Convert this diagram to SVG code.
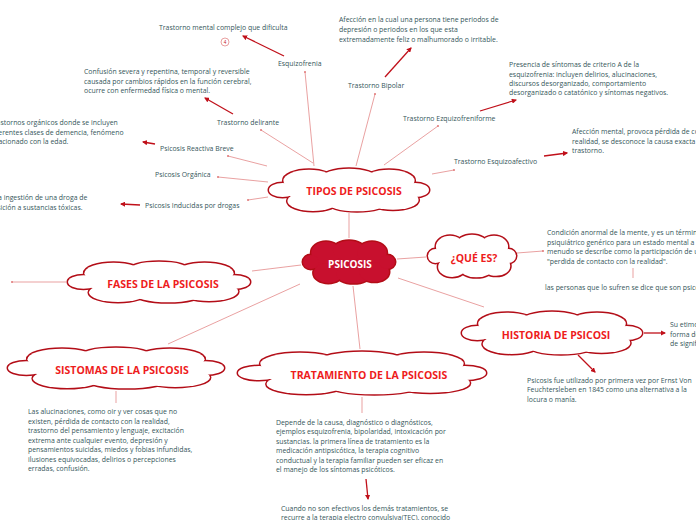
<svg xmlns="http://www.w3.org/2000/svg" xmlns:xlink="http://www.w3.org/1999/xlink" width="696" height="520" viewBox="0 0 696 520">
<style>
text{font-family:"Open Sans","Liberation Sans",sans-serif;}
.t{font-size:6.9px;fill:#35565a;}
.h{font-size:10.5px;font-weight:bold;fill:#ee1c1c;text-anchor:middle;}
.thin{stroke:#e07878;stroke-width:0.7;fill:none;}
.arr{stroke:#c0101a;stroke-width:1.3;fill:none;marker-end:url(#ah);}
.dot{fill:#e07878;}
.cs ellipse{stroke:#b30d17;stroke-width:3;vector-effect:non-scaling-stroke;}
.cf ellipse{stroke:none;}
</style>
<defs>
<marker id="ah" viewBox="0 0 10 10" refX="8" refY="5" markerWidth="4" markerHeight="4" orient="auto"><path d="M0,0L10,5L0,10z" fill="#c0101a"/></marker>
<g id="cloud">
<g class="cs">
<ellipse cx="0" cy="0" rx=".85" ry=".55"/><ellipse cx="-.5" cy="-.42" rx=".32" ry=".5"/><ellipse cx="0" cy="-.52" rx=".35" ry=".45"/><ellipse cx=".5" cy="-.42" rx=".32" ry=".5"/><ellipse cx="-.45" cy=".5" rx=".32" ry=".45"/><ellipse cx=".1" cy=".55" rx=".38" ry=".42"/><ellipse cx=".55" cy=".45" rx=".32" ry=".45"/><ellipse cx="-.83" cy="0" rx=".17" ry=".32"/><ellipse cx=".83" cy="0" rx=".17" ry=".32"/>
</g>
<g class="cf">
<ellipse cx="0" cy="0" rx=".85" ry=".55"/><ellipse cx="-.5" cy="-.42" rx=".32" ry=".5"/><ellipse cx="0" cy="-.52" rx=".35" ry=".45"/><ellipse cx=".5" cy="-.42" rx=".32" ry=".5"/><ellipse cx="-.45" cy=".5" rx=".32" ry=".45"/><ellipse cx=".1" cy=".55" rx=".38" ry=".42"/><ellipse cx=".55" cy=".45" rx=".32" ry=".45"/><ellipse cx="-.83" cy="0" rx=".17" ry=".32"/><ellipse cx=".83" cy="0" rx=".17" ry=".32"/>
</g>
</g>
</defs>
<rect width="696" height="520" fill="#fff"/>
<g id="connectors">
<line class="thin" x1="314" y1="166" x2="305" y2="72"/>
<line class="thin" x1="356" y1="166" x2="375" y2="94"/>
<line class="thin" x1="384" y1="165" x2="438" y2="126"/>
<line class="thin" x1="432" y1="174" x2="454" y2="170"/>
<line class="thin" x1="313" y1="163" x2="261" y2="130"/>
<line class="thin" x1="267" y1="166" x2="228" y2="156"/>
<line class="thin" x1="268" y1="182" x2="218" y2="177"/>
<line class="thin" x1="268" y1="197" x2="248" y2="200"/>
<line class="thin" x1="349" y1="213" x2="349" y2="238"/>
<line class="thin" x1="397" y1="259" x2="426" y2="257"/>
<line class="thin" x1="517" y1="253" x2="543" y2="251"/>
<line class="thin" x1="633" y1="268" x2="633" y2="278"/>
<line class="thin" x1="301" y1="265" x2="252" y2="271"/>
<line class="thin" x1="66" y1="282" x2="12" y2="282"/>
<line class="thin" x1="398" y1="278" x2="484" y2="307"/>
<line class="thin" x1="300" y1="284" x2="168" y2="344"/>
<line class="thin" x1="353" y1="286" x2="360" y2="349"/>
<line class="thin" x1="362" y1="397" x2="362" y2="413"/>
<line class="thin" x1="116" y1="391" x2="116" y2="403"/>
<g class="dot"><circle cx="305" cy="72" r="1"/><circle cx="375" cy="94" r="1"/><circle cx="438" cy="126" r="1"/><circle cx="454" cy="170" r="1"/><circle cx="261" cy="130" r="1"/><circle cx="228" cy="156" r="1"/><circle cx="218" cy="177" r="1"/><circle cx="248" cy="200" r="1"/><circle cx="543" cy="251" r="1"/><circle cx="12" cy="282" r="1"/></g>
<line class="arr" x1="284" y1="56" x2="243" y2="36"/>
<line class="arr" x1="385" y1="77" x2="411" y2="48"/>
<line class="arr" x1="480" y1="111" x2="516" y2="100"/>
<line class="arr" x1="544" y1="156" x2="567" y2="153"/>
<line class="arr" x1="233" y1="114" x2="205" y2="98"/>
<line class="arr" x1="155" y1="144" x2="143" y2="142"/>
<line class="arr" x1="140" y1="205" x2="121" y2="204"/>
<line class="arr" x1="644" y1="333" x2="665" y2="333"/>
<line class="arr" x1="578" y1="355" x2="595" y2="372"/>
<line class="arr" x1="366" y1="479" x2="368" y2="499"/>
<circle cx="225" cy="42" r="4" fill="none" stroke="#e07878" stroke-width="0.7"/>
<text x="225" y="44" font-size="4.5" fill="#c0101a" text-anchor="middle">4</text>
</g>
<g id="tipos"><use href="#cloud" fill="#fff" transform="translate(349,190) scale(80,22)"/><text class="h" x="354" y="195">TIPOS DE PSICOSIS</text></g>
<g id="psicosis"><use href="#cloud" fill="#c8102e" transform="translate(349,262) scale(46,22)"/><text class="h" x="350" y="268" style="fill:#fff;font-size:10px">PSICOSIS</text></g>
<g id="quees"><use href="#cloud" fill="#fff" transform="translate(472,256) scale(44,22)"/><text class="h" x="474" y="262">¿QUÉ ES?</text></g>
<g id="fases"><use href="#cloud" fill="#fff" transform="translate(159,282) scale(91,21)"/><text class="h" x="163" y="288">FASES DE LA PSICOSIS</text></g>
<g id="historia"><use href="#cloud" fill="#fff" transform="translate(552,333) scale(90,22)"/><text class="h" x="556" y="339">HISTORIA DE PSICOSI</text></g>
<g id="sistomas"><use href="#cloud" fill="#fff" transform="translate(116,368) scale(108,21)"/><text class="h" x="122" y="374">SISTOMAS DE LA PSICOSIS</text></g>
<g id="tratamiento"><use href="#cloud" fill="#fff" transform="translate(362,373) scale(124,22)"/><text class="h" x="369" y="379">TRATAMIENTO DE LA PSICOSIS</text></g>
<g id="texts">
<text class="t" x="159" y="30">Trastorno mental complejo que dificulta</text>
<text class="t" x="278" y="66">Esquizofrenia</text>
<text class="t" x="339" y="22">Afección en la cual una persona tiene periodos de</text>
<text class="t" x="339" y="32">depresión o periodos en los que esta</text>
<text class="t" x="339" y="42">extremadamente feliz o malhumorado o irritable.</text>
<text class="t" x="348" y="88">Trastorno Bipolar</text>
<text class="t" x="509" y="67">Presencia de síntomas de criterio A de la</text>
<text class="t" x="509" y="77">esquizofrenia: incluyen delirios, alucinaciones,</text>
<text class="t" x="509" y="86">discursos desorganizado, comportamiento</text>
<text class="t" x="509" y="95">desorganizado o catatónico y síntomas negativos.</text>
<text class="t" x="403" y="121">Trastorno Ezquizofreniforme</text>
<text class="t" x="572" y="134">Afección mental, provoca pérdida de contacto con la</text>
<text class="t" x="572" y="144">realidad, se desconoce la causa exacta de este</text>
<text class="t" x="572" y="153">trastorno.</text>
<text class="t" x="454" y="164">Trastorno Esquizoafectivo</text>
<text class="t" x="84" y="74">Confusión severa y repentina, temporal y reversible</text>
<text class="t" x="84" y="84">causada por cambios rápidos en la función cerebral,</text>
<text class="t" x="84" y="93">ocurre con enfermedad física o mental.</text>
<text class="t" x="217" y="125">Trastorno delirante</text>
<text class="t" x="-10" y="125">Trastornos orgánicos  donde se incluyen</text>
<text class="t" x="-10" y="135">diferentes clases de demencia, fenómeno</text>
<text class="t" x="-10" y="144">relacionado con la edad.</text>
<text class="t" x="160" y="151">Psicosis Reactiva Breve</text>
<text class="t" x="155" y="177">Psicosis Orgánica</text>
<text class="t" x="-46" y="200">Causada por la ingestión de una droga de</text>
<text class="t" x="-46" y="210">abuso o exposición a sustancias tóxicas.</text>
<text class="t" x="145" y="208">Psicosis Inducidas por drogas</text>
<text class="t" x="547" y="235">Condición anormal de la mente, y es un término</text>
<text class="t" x="547" y="245">psiquiátrico genérico para un estado mental a</text>
<text class="t" x="547" y="254">menudo se describe como la participación de una</text>
<text class="t" x="547" y="264">"perdida de contacto con la realidad".</text>
<text class="t" x="545" y="290">las personas que lo sufren se dice que son psicóticos</text>
<text class="t" x="670" y="327">Su etimología</text>
<text class="t" x="670" y="337">forma de la</text>
<text class="t" x="670" y="346">de significado</text>
<text class="t" x="527" y="383">Psicosis fue utilizado por primera vez por Ernst Von</text>
<text class="t" x="527" y="392">Feuchtersleben en 1845 como una alternativa a la</text>
<text class="t" x="527" y="402">locura o manía.</text>
<text class="t" x="28" y="414">Las alucinaciones, como oir y ver cosas que no</text>
<text class="t" x="28" y="424">existen, pérdida de contacto con la realidad,</text>
<text class="t" x="28" y="433">trastorno del pensamiento y lenguaje, excitación</text>
<text class="t" x="28" y="443">extrema ante cualquier evento, depresión y</text>
<text class="t" x="28" y="452">pensamientos suicidas, miedos y fobias infundidas,</text>
<text class="t" x="28" y="462">ilusiones equivocadas, delirios o percepciones</text>
<text class="t" x="28" y="471">erradas, confusión.</text>
<text class="t" x="276" y="425">Depende de la causa, diagnóstico o diagnósticos,</text>
<text class="t" x="276" y="434">ejemplos esquizofrenia, bipolaridad, intoxicación por</text>
<text class="t" x="276" y="444">sustancias. la primera línea de tratamiento es la</text>
<text class="t" x="276" y="453">medicación antipsicótica, la terapia cognitivo</text>
<text class="t" x="276" y="463">conductual y la terapia familiar pueden ser eficaz en</text>
<text class="t" x="276" y="472">el manejo de los síntomas psicóticos.</text>
<text class="t" x="281" y="511">Cuando no son efectivos los demás tratamientos, se</text>
<text class="t" x="281" y="520">recurre a la terapia electro convulsiva(TEC). conocido</text>
</g>
</svg>
